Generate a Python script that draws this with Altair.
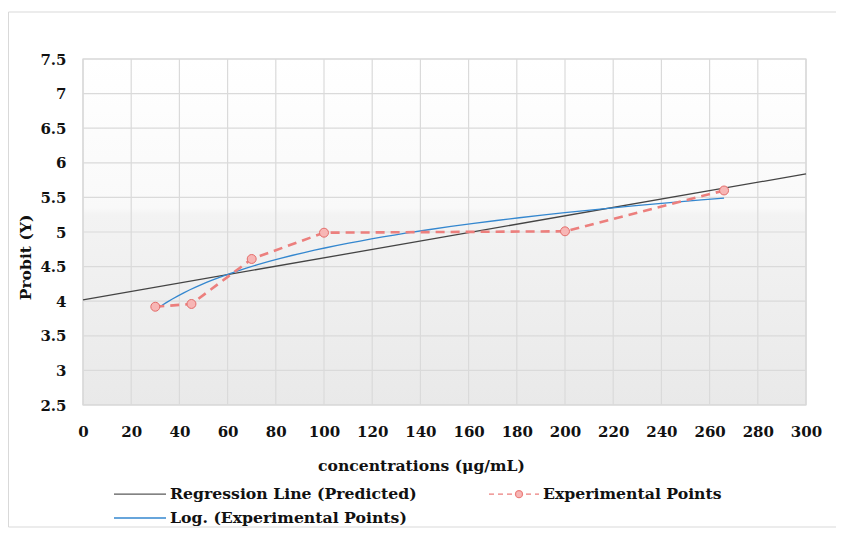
import altair as alt
import pandas as pd

# Experimental points
conc = [30, 45, 70, 100, 200, 266]
probit = [3.92, 3.96, 4.61, 4.99, 5.01, 5.60]

# Regression line (predicted) end points
reg_conc = [0, 300]
reg_probit = [4.02, 5.84]

# Legend entries
series = ["Regression Line (Predicted)", "Experimental Points", "Log. (Experimental Points)"]
series_stroke = ["#5a5a5a", "#ec7f7d", "#3487cf"]
series_fill = ["#5a5a5a", "#f7b6b5", "#3487cf"]

x_ticks = list(range(0, 301, 20))
y_ticks = [2.5, 3.0, 3.5, 4.0, 4.5, 5.0, 5.5, 6.0, 6.5, 7.0, 7.5]

FONT = "DejaVu Serif"

exp_df = pd.DataFrame({"conc": conc, "probit": probit})
reg_df = pd.DataFrame({"conc": reg_conc, "probit": reg_probit})
leg_df = pd.DataFrame({"series": series})
xt_df = pd.DataFrame({"conc": x_ticks})
yt_df = pd.DataFrame({"probit": y_ticks})

W, H = 723, 346

x_enc = alt.X(
    "conc:Q",
    scale=alt.Scale(domain=[0, 300], nice=False, zero=False),
    axis=alt.Axis(
        values=x_ticks, grid=False,
        domain=False, ticks=False, tickSize=0, labelPadding=19,
        labelFont=FONT, labelFontSize=15, labelFontWeight="bold", labelColor="#111111",
        title="concentrations (μg/mL)", titleFont=FONT, titleFontSize=15.6,
        titleFontWeight="bold", titleColor="#111111",
        titleX=338, titleY=60, titleAlign="center", titleBaseline="middle",
        labelFlush=False, labelOverlap=False,
    ),
)
y_enc = alt.Y(
    "probit:Q",
    scale=alt.Scale(domain=[2.5, 7.5], nice=False, zero=False),
    axis=alt.Axis(
        values=y_ticks, labelExpr="format(datum.value, '~g')", grid=False,
        domain=False, ticks=False, tickSize=0, labelPadding=17,
        labelFont=FONT, labelFontSize=15, labelFontWeight="bold", labelColor="#111111",
        title="Probit (Y)", titleFont=FONT, titleFontSize=15.6,
        titleFontWeight="bold", titleColor="#111111",
        titleX=-58, titleY=198, titleAngle=270, titleAlign="center", titleBaseline="middle",
        labelFlush=False, labelOverlap=False, labelBound=False,
    ),
)

bg = alt.LinearGradient(
    gradient="linear",
    stops=[
        alt.GradientStop(color="#ffffff", offset=0),
        alt.GradientStop(color="#f9f9f9", offset=0.43),
        alt.GradientStop(color="#f3f3f3", offset=0.45),
        alt.GradientStop(color="#e9e9e9", offset=1),
    ],
    x1=0, x2=0, y1=0, y2=1,
)

background = alt.Chart(alt.Data(values=[{"a": 1}])).mark_rect(
    fill=bg, stroke="#d2d2d2", strokeWidth=1.2
).encode(x=alt.value(0), x2=alt.value(W), y=alt.value(0), y2=alt.value(H))

vgrid = alt.Chart(xt_df).mark_rule(color="#dadada", strokeWidth=1.2).encode(x=x_enc)
hgrid = alt.Chart(yt_df).mark_rule(color="#dadada", strokeWidth=1.2).encode(y=y_enc)

reg_line = alt.Chart(reg_df).mark_line(color="#444444", strokeWidth=1.3).encode(x=x_enc, y=y_enc)

log_line = (
    alt.Chart(exp_df)
    .transform_regression("conc", "probit", method="log", extent=[30, 266])
    .mark_line(color="#3487cf", strokeWidth=1.3)
    .encode(x=x_enc, y=y_enc)
)

exp_line = alt.Chart(exp_df).mark_line(
    color="#ec7f7d", strokeWidth=2.6, strokeDash=[9, 6]
).encode(x=x_enc, y=y_enc)

exp_pts = alt.Chart(exp_df).mark_point(
    filled=True, size=80, fill="#f7b6b5", stroke="#e36d6b", strokeWidth=1, opacity=1
).encode(x=x_enc, y=y_enc)

line_path = "M-4.2,0H1"
exp_path = (
    "M-4,0H-3.5M-3.1,0H-2.6M-2.2,0H-1.7"
    "M-1.35,0A0.35,0.35 0 1,0 -0.65,0A0.35,0.35 0 1,0 -1.35,0Z"
    "M-0.3,0H0.2M0.6,0H1"
)
shapes = [line_path, exp_path, line_path]

legend = alt.Legend(
    orient="none", legendX=62, legendY=424, columns=2, direction="horizontal",
    columnPadding=69, rowPadding=5, symbolSize=400, symbolStrokeWidth=1.3, labelOffset=3,
    labelFont=FONT, labelFontSize=15.7, labelFontWeight="bold", labelColor="#111111",
    labelLimit=0, title=None, padding=0,
)

legend_layer = (
    alt.Chart(leg_df)
    .transform_filter("false")
    .mark_point(filled=True, opacity=1, strokeWidth=1.3)
    .encode(
        shape=alt.Shape("series:N", scale=alt.Scale(domain=series, range=shapes), legend=legend, sort=series),
        stroke=alt.Stroke("series:N", scale=alt.Scale(domain=series, range=series_stroke), legend=legend, sort=series),
        fill=alt.Fill("series:N", scale=alt.Scale(domain=series, range=series_fill), legend=legend, sort=series),
    )
)

border = alt.Chart(alt.Data(values=[{"a": 1}])).mark_rect(
    fill="transparent", stroke="#d9d9d9", strokeWidth=1
).encode(
    x=alt.value(-74.5), x2=alt.value(790), y=alt.value(-47), y2=alt.value(468)
)

chart = (
    alt.layer(border, background, vgrid, hgrid, reg_line, log_line, exp_line, exp_pts, legend_layer)
    .properties(
        width=W, height=H,
        autosize=alt.AutoSizeParams(type="none"),
        padding={"left": 75, "top": 51, "right": 30, "bottom": 125},
        background="#ffffff",
    )
    .configure_view(stroke=None)
)

chart.save("out.html", embed_options={"renderer": "svg", "actions": False})
